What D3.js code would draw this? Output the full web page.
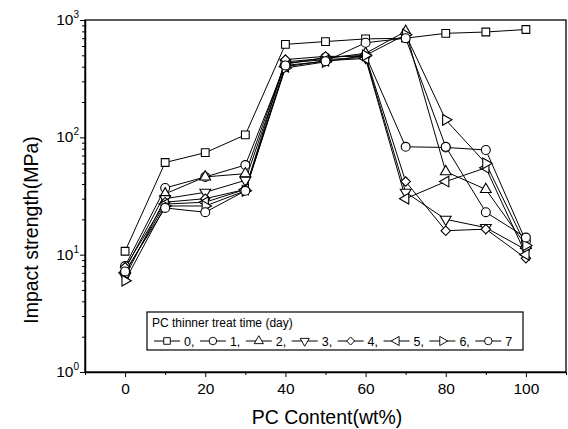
<!DOCTYPE html>
<html><head><meta charset="utf-8">
<script src="https://cdn.jsdelivr.net/npm/d3@7"></script>
<style>body{margin:0;background:#fff}svg{display:block;font-family:"Liberation Sans",Arial,sans-serif}</style>
</head><body><svg id="c" width="568" height="429"></svg>
<script>
const xValues = [0,10,20,30,40,50,60,70,80,90,100];
const seriesNames = ["0","1","2","3","4","5","6","7"];
const day0 = [10.7,61,74,105,620,655,690,700,770,790,830];
const day1 = [8,37,46,58,420,480,500,83,82,78,13];
const day2 = [7.5,33,46,49,440,470,520,800,51,36,12];
const day3 = [6.5,30,34,43,430,460,480,34,20,17,11];
const day4 = [7.8,28,30,36,460,490,490,42,16,16.5,9.3];
const day5 = [7,27,28,36,400,450,470,30,42,55,10];
const day6 = [6,26,26,35,390,440,500,750,141,60,12];
const day7 = [7.2,25,23,35,410,445,640,700,83,23,14];
const seriesValues = [day0,day1,day2,day3,day4,day5,day6,day7];
const xTicks = [0,20,40,60,80,100];
const xMinor = [-10,10,30,50,70,90,110];
const yMajor = [1,10,100,1000];
const yExp = ["0","1","2","3"];
const legendTitle = "PC thinner treat time (day)";
const xTitle = "PC Content(wt%)";
const yTitle = "Impact strength(MPa)";

const svg = d3.select("#c");
const x = d3.scaleLinear().domain([-10,110]).range([85,566]);
const y = d3.scaleLog().domain([1,1000]).range([372,20]);

// frame
svg.append("rect").attr("x",85).attr("y",20).attr("width",481).attr("height",352)
  .attr("fill","none").attr("stroke","#000").attr("stroke-width",1.3);

// x axis
const xa = svg.append("g").attr("transform","translate(0,372)")
  .call(d3.axisBottom(x).tickValues(xTicks).tickSize(5).tickSizeOuter(0).tickFormat(d3.format("d")));
xa.select(".domain").attr("stroke-width",1.5);
xa.selectAll("text").attr("font-size",15.5).attr("dy","0.9em").attr("fill","#000");
svg.append("g").attr("transform","translate(0,372)")
  .call(d3.axisBottom(x).tickValues(xMinor).tickSize(3).tickFormat(""))
  .select(".domain").remove();

// y axis
const minor = [];
for (let d=1; d<1000; d*=10) for (let k=2;k<=9;k++) minor.push(d*k);
const ya = svg.append("g").attr("transform","translate(85,0)")
  .call(d3.axisLeft(y).tickValues(yMajor).tickSize(5).tickSizeOuter(0).tickFormat(""));
ya.select(".domain").attr("stroke-width",1.5);
svg.append("g").attr("transform","translate(85,0)")
  .call(d3.axisLeft(y).tickValues(minor).tickSize(3).tickFormat(""))
  .select(".domain").remove();
const yl = svg.append("g");
yMajor.forEach((v,i)=>{
  const t = yl.append("text").attr("x",79).attr("y",y(v)+5).attr("text-anchor","end")
    .attr("font-size",15.5);
  t.append("tspan").text("10");
  t.append("tspan").attr("font-size",10).attr("dy",-7).text(yExp[i]);
});

// titles
svg.append("text").attr("x",327).attr("y",424).attr("text-anchor","middle")
  .attr("font-size",19.5).text(xTitle);
svg.append("text").attr("transform","translate(38,230) rotate(-90)").attr("text-anchor","middle")
  .attr("font-size",19.5).text(yTitle);

// symbols
const tri = d3.symbol().type(d3.symbolTriangle).size(50)();
const shapes = [
  {p:d3.symbol().type(d3.symbolSquare).size(60)(), r:0},
  {p:d3.symbol().type(d3.symbolCircle).size(62)(), r:0},
  {p:tri, r:0},
  {p:tri, r:180},
  {p:d3.symbol().type(d3.symbolSquare).size(44)(), r:45},
  {p:tri, r:-90},
  {p:tri, r:90},
  {p:d3.symbol().type(d3.symbolCircle).size(62)(), r:0}
];

const line = d3.line().x((d,i)=>x(xValues[i])).y(d=>y(d));
const plot = svg.append("g");
seriesValues.forEach((vals,s)=>{
  plot.append("path").attr("d",line(vals)).attr("fill","none")
    .attr("stroke","#000").attr("stroke-width",1);
});
seriesValues.forEach((vals,s)=>{
  plot.append("g").selectAll("path").data(vals).join("path")
    .attr("d",shapes[s].p)
    .attr("transform",(d,i)=>`translate(${x(xValues[i])},${y(d)}) rotate(${shapes[s].r})`)
    .attr("fill","#fff").attr("stroke","#000").attr("stroke-width",1.1);
});

// legend
const lg = svg.append("g");
lg.append("rect").attr("x",147).attr("y",312).attr("width",376).attr("height",38)
  .attr("fill","#fff").attr("stroke","#000").attr("stroke-width",1.2);
lg.append("text").attr("x",152).attr("y",327).attr("font-size",12).text(legendTitle);
seriesNames.forEach((n,s)=>{
  const cx = 167 + s*45.9, cy = 341;
  lg.append("line").attr("x1",cx-13).attr("x2",cx+13).attr("y1",cy).attr("y2",cy)
    .attr("stroke","#000").attr("stroke-width",1);
  lg.append("path").attr("d",shapes[s].p)
    .attr("transform",`translate(${cx},${cy}) rotate(${shapes[s].r}) scale(0.85)`)
    .attr("fill","#fff").attr("stroke","#000").attr("stroke-width",1.1);
  lg.append("text").attr("x",cx+17).attr("y",cy+4.5).attr("font-size",12.5)
    .text(n + (s<seriesNames.length-1?",":""));
});
</script></body></html>
